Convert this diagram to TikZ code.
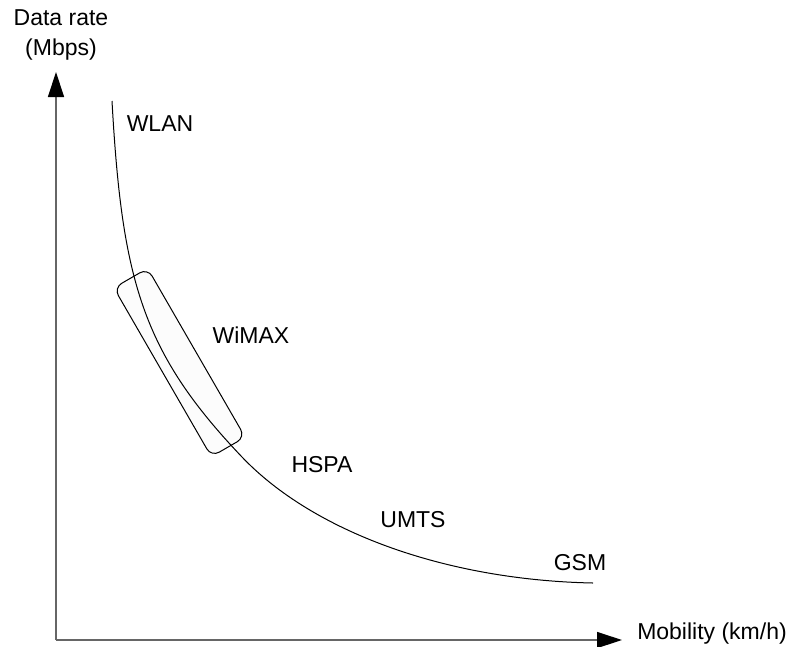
\documentclass[tikz,border=0pt]{standalone}
\usepackage{fontspec}
\setmainfont{Liberation Sans}
\usetikzlibrary{arrows.meta}
\begin{document}
\begin{tikzpicture}[x=1pt,y=-1pt,
  axis/.style={draw=black!60,line width=1.3pt,
    -{Triangle[length=25pt,width=16pt,fill=black,color=black]}},
  lbl/.style={font=\fontsize{23}{27}\selectfont,inner sep=0pt},
  curve/.style={draw=black,line width=1pt},
  band/.style={draw=black,line width=1pt,fill=black!1,rounded corners=9pt,
    minimum width=195pt,minimum height=39pt,rotate=-60,inner sep=0pt}]
\useasboundingbox (0,0) rectangle (792,646);

% axes
\coordinate (o) at (56,640);
\coordinate (ytip) at (56,72);
\coordinate (xtip) at (622,640);

% highlighted band, drawn under the curve
\node[band] (wimaxband) at (179.5,362.5) {};

\draw[axis] (o) -- (ytip);
\draw[axis] (o) -- (xtip);

% rate versus mobility trade-off curve
\coordinate (cstart) at (112,101);
\coordinate (cmid) at (242,457);
\coordinate (cend) at (593,583);
\draw[curve] (cstart) .. controls (122,280) and (142,352) .. (cmid)
  .. controls (312,530.5) and (443,580) .. (cend);

% labels
\node[lbl] (ytitle1) at (61,18) {Data rate};
\node[lbl] (ytitle2) at (61,50) {(Mbps)};
\node[lbl] (xtitle) at (712,634) {Mobility (km/h)};
\node[lbl] (wlan) at (160,124) {WLAN};
\node[lbl] (wimax) at (251,335) {WiMAX};
\node[lbl] (hspa) at (322,465) {HSPA};
\node[lbl] (umts) at (413,520) {UMTS};
\node[lbl] (gsm) at (580,563) {GSM};
\end{tikzpicture}
\end{document}
